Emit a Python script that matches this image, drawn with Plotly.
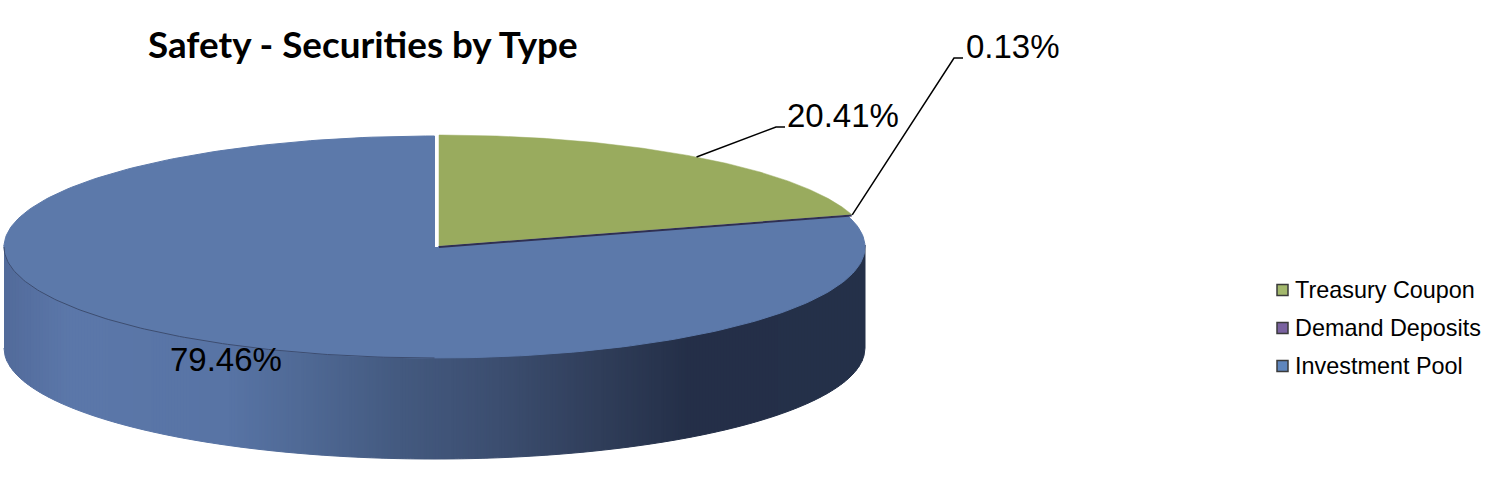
import numpy as np
import plotly.graph_objects as go

categories = ["Treasury Coupon", "Demand Deposits", "Investment Pool"]
shares = [20.41, 0.13, 79.46]
labels = ["20.41%", "0.13%", "79.46%"]
top_colors = ["#99ab5e", "#2f2f52", "#5c79aa"]
legend_swatch = ["#a3b86c", "#7a62a0", "#5f86bd"]

W, H = 1507, 483
CX, CY, RX, RY, DEPTH = 434.5, 247.0, 430.5, 111.0, 101.0
GREEN_DX, GREEN_DY = 4.5, -1.0

grad_x = [4, 30, 70, 230, 300, 400, 500, 600, 690, 865]
grad_r = [82, 86, 92, 88, 80, 68, 60, 48, 36, 37]
grad_g = [107, 112, 120, 116, 106, 90, 78, 62, 47, 49]
grad_b = [154, 161, 170, 165, 150, 128, 112, 90, 72, 74]


def point(frac, cx=CX, cy=CY):
    a = 2 * np.pi * np.asarray(frac)
    return cx + RX * np.sin(a), cy - RY * np.cos(a)


def wedge(f0, f1, cx=CX, cy=CY):
    ts = np.linspace(f0, f1, 240)
    x, y = point(ts, cx, cy)
    return np.r_[cx, x, cx], np.r_[cy, y, cy]


fig = go.Figure()

# side wall, shaded in narrow strips
edges = np.arange(CX - RX, CX + RX + 3, 3.0)
edges[-1] = min(edges[-1], CX + RX)
for x0, x1 in zip(edges[:-1], edges[1:]):
    xs = np.linspace(x0, x1, 4)
    ys = CY + RY * np.sqrt(np.clip(1 - ((xs - CX) / RX) ** 2, 0, 1))
    mid = (x0 + x1) / 2
    c = "rgb(%d,%d,%d)" % (
        np.interp(mid, grad_x, grad_r),
        np.interp(mid, grad_x, grad_g),
        np.interp(mid, grad_x, grad_b),
    )
    fig.add_trace(go.Scatter(
        x=np.r_[xs, xs[::-1]], y=np.r_[ys - 2, ys[::-1] + DEPTH],
        mode="lines", fill="toself", fillcolor=c, line=dict(color=c, width=1),
        hoverinfo="skip", showlegend=False))

cum = np.cumsum([0] + shares) / 100.0

# investment pool top face
x, y = wedge(cum[2], cum[3])
fig.add_trace(go.Scatter(x=x, y=y, mode="lines", fill="toself", fillcolor=top_colors[2],
                         line=dict(color=top_colors[2], width=1), hoverinfo="skip", showlegend=False))

# thin rim along the front-left edge
x, y = point(np.linspace(0.5, 0.75, 120))
fig.add_trace(go.Scatter(x=x, y=y, mode="lines", line=dict(color="#3d4d70", width=1),
                         hoverinfo="skip", showlegend=False))

# white gap down the 12 o'clock edge
fig.add_trace(go.Scatter(x=[CX + 2, CX + 2], y=[CY - RY - 1, CY], mode="lines",
                         line=dict(color="#ffffff", width=3), hoverinfo="skip", showlegend=False))

# treasury coupon top face
x, y = wedge(cum[0], cum[1], CX + GREEN_DX, CY + GREEN_DY)
fig.add_trace(go.Scatter(x=x, y=y, mode="lines", fill="toself", fillcolor=top_colors[0],
                         line=dict(color=top_colors[0], width=0.5), hoverinfo="skip", showlegend=False))

# demand deposits sliver: dark edge under the green wedge
xe, ye = point(cum[1], CX + GREEN_DX, CY + GREEN_DY)
fig.add_trace(go.Scatter(x=[CX + GREEN_DX, xe], y=[CY + GREEN_DY + 1, ye + 1], mode="lines",
                         line=dict(color=top_colors[1], width=2), hoverinfo="skip", showlegend=False))

# leader lines
elbows = [(776, 127, 785), (954, 58, 963)]
for i, (ex, ey, tx) in enumerate(elbows):
    sx, sy = point((cum[i] + cum[i + 1]) / 2, CX + GREEN_DX, CY + GREEN_DY)
    fig.add_trace(go.Scatter(x=[sx, ex, tx], y=[sy, ey, ey], mode="lines",
                             line=dict(color="#000000", width=1.5), hoverinfo="skip", showlegend=False))

# legend: the text is a real legend; its swatches sit closer to the text than the legend allows
swatch_x = 1282.5
swatch_y = [290, 328, 366]
for name, fc, sy in zip(categories, legend_swatch, swatch_y):
    fig.add_trace(go.Scatter(
        x=[None], y=[None], mode="markers", name=name, legendgroup=name,
        marker=dict(symbol="square", size=11, color="rgba(0,0,0,0)", line=dict(width=0)),
        hoverinfo="skip"))
    fig.add_trace(go.Scatter(
        x=[swatch_x], y=[sy], mode="markers", showlegend=False,
        marker=dict(symbol="square", size=11, color=fc, line=dict(color="#3a3a3a", width=1.5)),
        hoverinfo="skip"))

label_pos = [(843, 115), (1013, 46), (226, 359)]
annotations = [
    dict(x=lx, y=ly, text=t, xref="x", yref="y", showarrow=False, xanchor="center", yanchor="middle",
         font=dict(family="Liberation Sans", size=33, color="#000000"))
    for (lx, ly), t in zip(label_pos, labels)
]

fig.update_layout(
    width=W, height=H, margin=dict(l=0, r=0, t=0, b=0),
    paper_bgcolor="#ffffff", plot_bgcolor="#ffffff",
    xaxis=dict(range=[0, W], visible=False, fixedrange=True),
    yaxis=dict(range=[H, 0], visible=False, fixedrange=True),
    title=dict(text="<b>Safety - Securities by Type</b>", x=148 / W, xanchor="left",
               y=1 - 45 / H, yanchor="middle", yref="container",
               font=dict(family="Lato", size=36.8, color="#000000")),
    legend=dict(x=1255 / W, y=1 - 267 / H, xanchor="left", yanchor="top", tracegroupgap=4.5,
                bgcolor="rgba(0,0,0,0)", font=dict(family="Liberation Sans", size=23.4, color="#000000")),
    annotations=annotations,
    showlegend=True,
)

fig.write_html("out.html", config={"displayModeBar": False},
               post_script="document.body.style.margin='0';document.documentElement.style.overflow='hidden';")
